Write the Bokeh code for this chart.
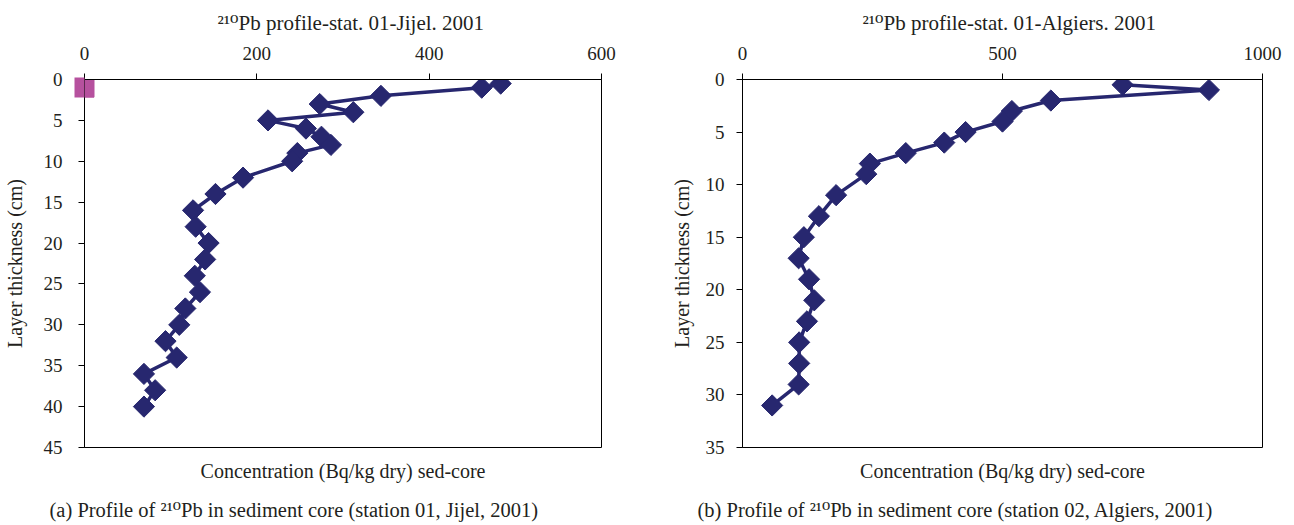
from bokeh.plotting import figure
from bokeh.layouts import row
from bokeh.models import Range1d, FixedTicker, Title
from bokeh.embed import file_html
from bokeh.resources import INLINE

# ---- data ----
jijel_depth = [0.5, 1, 2, 3, 4, 5, 6, 7, 8, 9, 10, 12, 14, 16, 18, 20, 22, 24, 26, 28, 30, 32, 34, 36, 38, 40]
jijel_conc = [483, 461, 344, 273, 312, 213, 257, 275, 286, 247, 241, 184, 152, 126, 129, 144, 140, 128, 134, 117, 110, 94, 107, 69, 82, 69]
jijel_ref_depth = [1]
jijel_ref_conc = [0]

algiers_depth = [0.5, 1, 2, 3, 4, 5, 6, 7, 8, 9, 11, 13, 15, 17, 19, 21, 23, 25, 27, 29, 31]
algiers_conc = [731, 897, 593, 518, 500, 429, 388, 314, 245, 238, 180, 147, 118, 108, 128, 138, 124, 109, 109, 108, 57]

jijel_xticks = [0, 200, 400, 600]
jijel_yticks = [0, 5, 10, 15, 20, 25, 30, 35, 40, 45]
algiers_xticks = [0, 500, 1000]
algiers_yticks = [0, 5, 10, 15, 20, 25, 30, 35]

left_title = "\u00b2\u00b9\u2070Pb profile-stat. 01-Jijel. 2001"
right_title = "\u00b2\u00b9\u2070Pb profile-stat. 01-Algiers. 2001"
x_title = "Concentration (Bq/kg dry) sed-core"
y_title = "Layer thickness (cm)"
left_cap = "(a)  Profile of \u00b2\u00b9\u2070Pb in sediment core (station 01, Jijel, 2001)"
right_cap = "(b)  Profile of \u00b2\u00b9\u2070Pb in sediment core (station 02, Algiers, 2001)"

FONT = "Liberation Serif"
FONT_SUP = "Liberation Serif, DejaVu Serif"
TXT = "#231f20"
NAVY = "#27276f"
PINK = "#b6519e"
TICK_FS = "19px"
LAB_FS = "20px"
CAP_FS = "20.5px"
TITLE_FS = "21px"


def make_fig(xmax, ymax, xticks, yticks, minor, width, bl, br, ylab_standoff):
    p = figure(width=width, height=525, x_range=Range1d(0, xmax), y_range=Range1d(ymax, 0),
               x_axis_location="above", output_backend="svg", toolbar_location=None,
               min_border_left=bl, min_border_right=br, min_border_top=79, min_border_bottom=78)
    p.grid.visible = False
    p.outline_line_color = "black"
    p.outline_line_width = 1
    p.background_fill_color = "white"
    p.border_fill_color = "white"
    for ax in (p.xaxis[0], p.yaxis[0]):
        ax.axis_line_color = "black"
        ax.major_tick_line_color = "black"
        ax.major_tick_in = 0
        ax.major_tick_out = 6
        ax.minor_tick_line_color = None
        ax.major_label_text_font = FONT
        ax.major_label_text_font_size = TICK_FS
        ax.major_label_text_color = TXT
    p.xaxis.major_label_standoff = 14
    p.yaxis.major_label_standoff = 12
    p.xaxis.ticker = FixedTicker(ticks=xticks)
    p.yaxis.ticker = FixedTicker(ticks=yticks, minor_ticks=minor)
    p.yaxis.axis_label = y_title
    p.yaxis.axis_label_text_font = FONT
    p.yaxis.axis_label_text_font_size = LAB_FS
    p.yaxis.axis_label_text_font_style = "normal"
    p.yaxis.axis_label_text_color = TXT
    p.yaxis.axis_label_standoff = ylab_standoff
    return p


def add_texts(p, title, title_offset, cap, cap_offset):
    p.title = Title(text=title, align="left", offset=title_offset, standoff=16,
                    vertical_align="middle",
                    text_font=FONT_SUP, text_font_size=TITLE_FS, text_font_style="normal",
                    text_color=TXT)
    p.add_layout(Title(text=x_title, align="center", standoff=22, vertical_align="middle",
                       text_font=FONT, text_font_size=LAB_FS, text_font_style="normal",
                       text_color=TXT), "below")
    p.add_layout(Title(text=cap, align="left", offset=cap_offset, standoff=8,
                       vertical_align="middle",
                       text_font=FONT_SUP, text_font_size=CAP_FS, text_font_style="normal",
                       text_color=TXT), "below")


# ---- (a) Jijel ----
p1 = make_fig(600, 45, jijel_xticks, jijel_yticks, jijel_ref_depth, 660, 82, 59, 15)
p1.line(jijel_conc, jijel_depth, line_color=NAVY, line_width=3.5, line_join="round")
p1.scatter(jijel_conc, jijel_depth, marker="square", angle=0.785, size=15,
           fill_color=NAVY, line_color=NAVY)
# pink reference square on the axis: inner half is a marker, outer half a wide minor tick
p1.scatter(jijel_ref_conc, jijel_ref_depth, marker="square", size=19,
           fill_color=PINK, line_color=PINK)
p1.yaxis.minor_tick_line_color = PINK
p1.yaxis.minor_tick_line_width = 20
p1.yaxis.minor_tick_in = 0
p1.yaxis.minor_tick_out = 10
p1.yaxis.minor_tick_line_cap = "butt"
add_texts(p1, left_title, 133, left_cap, -35)

# ---- (b) Algiers ----
p2 = make_fig(1000, 35, algiers_xticks, algiers_yticks, [], 634, 82, 32, 10)
p2.line(algiers_conc, algiers_depth, line_color=NAVY, line_width=3.5, line_join="round")
p2.scatter(algiers_conc, algiers_depth, marker="square", angle=0.785, size=15,
           fill_color=NAVY, line_color=NAVY)
add_texts(p2, right_title, 120, right_cap, -45)

layout = row(p1, p2)
open("out.html", "w").write(file_html(layout, INLINE))
